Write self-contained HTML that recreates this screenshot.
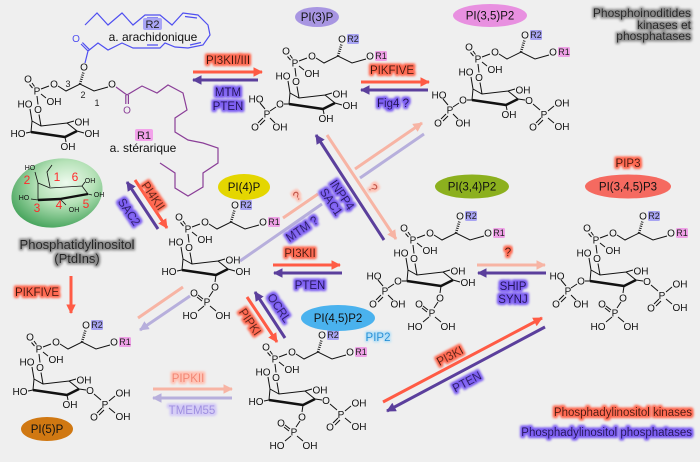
<!DOCTYPE html>
<html><head><meta charset="utf-8">
<style>
html,body{margin:0;padding:0;background:#efefef;}
svg{display:block;}
text{font-family:"Liberation Sans",Arial,sans-serif;}
.m text{font-size:10px;text-anchor:middle;fill:#111;}
.m .s{font-size:9px;fill:#222;}
.m path{stroke:#111;stroke-width:1;fill:none;}
.m path.t{stroke-width:2.5;stroke-linejoin:round;}
.m path.h{stroke-width:2.6;stroke-dasharray:0.9 1.3;}
.lab{font-size:11.5px;text-anchor:middle;}
.kr{fill:#3a1208;}
.pp{fill:#1c0f4e;}
.el{font-size:11.5px;text-anchor:middle;fill:#111;}
</style></head>
<body>
<svg width="700" height="462" viewBox="0 0 700 462" xmlns="http://www.w3.org/2000/svg">
<defs>
<filter id="gR" x="-30%" y="-60%" width="160%" height="220%">
<feMorphology in="SourceAlpha" operator="dilate" radius="1.7" result="d"/>
<feGaussianBlur in="d" stdDeviation="1.3" result="b"/>
<feFlood flood-color="#ff6a52"/>
<feComposite in2="b" operator="in" result="c"/>
<feMerge><feMergeNode in="c"/><feMergeNode in="c"/><feMergeNode in="SourceGraphic"/></feMerge>
</filter>
<filter id="gP" x="-30%" y="-60%" width="160%" height="220%">
<feMorphology in="SourceAlpha" operator="dilate" radius="1.7" result="d"/>
<feGaussianBlur in="d" stdDeviation="1.3" result="b"/>
<feFlood flood-color="#7d5ff2"/>
<feComposite in2="b" operator="in" result="c"/>
<feMerge><feMergeNode in="c"/><feMergeNode in="c"/><feMergeNode in="SourceGraphic"/></feMerge>
</filter>
<filter id="gG" x="-20%" y="-60%" width="140%" height="220%">
<feMorphology in="SourceAlpha" operator="dilate" radius="1.4" result="d"/>
<feGaussianBlur in="d" stdDeviation="1.3" result="b"/>
<feFlood flood-color="#8a8a8a"/>
<feComposite in2="b" operator="in" result="c"/>
<feMerge><feMergeNode in="c"/><feMergeNode in="SourceGraphic"/></feMerge>
</filter>
<filter id="gLR" x="-30%" y="-60%" width="160%" height="220%">
<feMorphology in="SourceAlpha" operator="dilate" radius="1.5" result="d"/>
<feGaussianBlur in="d" stdDeviation="1.3" result="b"/>
<feFlood flood-color="#ffc2b4"/>
<feComposite in2="b" operator="in" result="c"/>
<feMerge><feMergeNode in="c"/><feMergeNode in="c"/><feMergeNode in="SourceGraphic"/></feMerge>
</filter>
<filter id="gLP" x="-30%" y="-60%" width="160%" height="220%">
<feMorphology in="SourceAlpha" operator="dilate" radius="1.5" result="d"/>
<feGaussianBlur in="d" stdDeviation="1.3" result="b"/>
<feFlood flood-color="#d4cbf6"/>
<feComposite in2="b" operator="in" result="c"/>
<feMerge><feMergeNode in="c"/><feMergeNode in="c"/><feMergeNode in="SourceGraphic"/></feMerge>
</filter>
<filter id="gB" x="-30%" y="-60%" width="160%" height="220%">
<feMorphology in="SourceAlpha" operator="dilate" radius="1.2" result="d"/>
<feGaussianBlur in="d" stdDeviation="1.2" result="b"/>
<feFlood flood-color="#a8dcf8"/>
<feComposite in2="b" operator="in" result="c"/>
<feMerge><feMergeNode in="c"/><feMergeNode in="SourceGraphic"/></feMerge>
</filter>
<marker id="aR" viewBox="0 0 10 10" refX="9" refY="5" markerWidth="3.2" markerHeight="3.2" orient="auto"><path d="M0,0L10,5L0,10z" fill="#ff5b45"/></marker>
<marker id="aP" viewBox="0 0 10 10" refX="9" refY="5" markerWidth="3.2" markerHeight="3.2" orient="auto"><path d="M0,0L10,5L0,10z" fill="#5b3f9c"/></marker>
<marker id="aLR" viewBox="0 0 10 10" refX="9" refY="5" markerWidth="3.2" markerHeight="3.2" orient="auto"><path d="M0,0L10,5L0,10z" fill="#f7b4a4"/></marker>
<marker id="aLP" viewBox="0 0 10 10" refX="9" refY="5" markerWidth="3.2" markerHeight="3.2" orient="auto"><path d="M0,0L10,5L0,10z" fill="#b7afdc"/></marker>
<radialGradient id="gg" cx="0.62" cy="0.38" r="0.7">
<stop offset="0" stop-color="#eefaee"/><stop offset="0.45" stop-color="#b6e2b8"/><stop offset="1" stop-color="#3e9f55"/>
</radialGradient>
</defs>
<rect width="700" height="462" fill="#efefef"/>

<!-- chains of PI -->
<g fill="none" stroke="#4f4ff0" stroke-width="1.2">
<path d="M85,63L88,51M88,51L81,44M89.4,49.6L82.4,42.6"/>
<path d="M88,51L98,43L108,50L122,43L133,48L145,48L160,48L165,43L175,47L188,48L203,45L210,35L208,25L198,15L183,13L172,25L160,15L145,15L133,25L122,13L108,25L97,13L85,25"/>
<path d="M147,18L158,18M185,16.5L197,18M190,45L201,42.5M147,45L158,45"/>
</g>
<text x="76" y="42" font-size="10" text-anchor="middle" fill="#4f4ff0">O</text>
<g fill="none" stroke="#8b3f98" stroke-width="1.2">
<path d="M116,87L127,95M125.8,95L125.8,104M128.4,95L128.4,104"/>
<path d="M127,95L142,86L157,93L168,85L183,93L187,110L175,118L175,132L188,140L203,143L218,148L218,163L203,173L203,187L188,196L175,188L175,173L160,163"/>
</g>
<text x="127" y="113.5" font-size="10" text-anchor="middle" fill="#8b3f98">O</text>
<rect x="143" y="18" width="19" height="12" rx="2" fill="#a9a6f5"/>
<text x="152.5" y="28" font-size="11" text-anchor="middle" fill="#222">R2</text>
<text x="153" y="41" font-size="12" text-anchor="middle" fill="#111">a. arachidonique</text>
<rect x="135" y="129" width="18" height="12" rx="2" fill="#f2a2ea"/>
<text x="144" y="139" font-size="11" text-anchor="middle" fill="#222">R1</text>
<text x="143" y="152" font-size="12" text-anchor="middle" fill="#111">a. stérarique</text>

<!-- PI -->
<g class="m" transform="translate(37,91)">
<path d="M-2.5,-4.5L-5,-8M-4.5,-3L-7.5,-6.5M4,3L9,7M4,-2L12,-5M21,-5L29,0L43,-7L57,0L71,-4"/>
<path class="h" d="M43,-7L46.5,-19"/>
<text x="-9" y="-8.5">O</text><text x="0" y="3.5">P</text><text x="17" y="14">OH</text><text x="17" y="-3.5">O</text><text x="47" y="-20.5">O</text><text x="75" y="-3.5">O</text>
<text class="s" x="31" y="-4">3</text><text class="s" x="46" y="7">2</text><text class="s" x="60" y="15">1</text>
<path d="M0,5L1,13.5M2,23.5L4,35M-7,18L-5,30M30,32L37,30M-6,41L-5,30L4,35L30,32L40,40"/><path class="t" d="M40,40L28,46L-6,41"/><text x="-12" y="16.5">HO</text><text x="1" y="22">O</text><text x="45" y="34.5">OH</text>
<path d="M-6,41L-11,42"/><text x="-19" y="46">HO</text>
<path d="M40,40L47,42"/><text x="55" y="46">OH</text>
<path d="M28,46L29,51"/><text x="31" y="59">OH</text>
</g>

<!-- PI(3)P -->
<g class="m" transform="translate(295,63)">
<path d="M-2.5,-4.5L-5,-8M-4.5,-3L-7.5,-6.5M4,3L9,7M4,-2L12,-5M21,-5L29,0L43,-7L57,0L71,-4"/><path class="h" d="M43,-7L46.5,-19"/>
<text x="-9" y="-8.5">O</text><text x="0" y="3.5">P</text><text x="17" y="14">OH</text><text x="17" y="-3.5">O</text><text x="47" y="-20.5">O</text><rect x="52" y="-29" width="12" height="10" rx="1.5" fill="#a8a4f2"/><text class="s" x="58" y="-21">R2</text><text x="75" y="-3.5">O</text><rect x="80" y="-12" width="12" height="10" rx="1.5" fill="#eea0e6"/><text class="s" x="86" y="-4">R1</text>
<path d="M0,5L1,13.5M2,23.5L4,35M-7,18L-5,30M30,32L37,30M-6,41L-5,30L4,35L30,32L40,40"/><path class="t" d="M40,40L28,46L-6,41"/><text x="-12" y="16.5">HO</text><text x="1" y="22">O</text><text x="45" y="34.5">OH</text>
<path d="M-6,41L-11,41M-19,44L-25,48M-30,46L-35,40M-32,55L-37,60M-30,57L-35,62M-25,55L-20,60"/><text x="-15" y="44.5">O</text><text x="-28" y="54.5">P</text><text x="-39" y="39.5">HO</text><text x="-40" y="67.5">O</text><text x="-15" y="67.5">OH</text>
<path d="M40,40L47,42"/><text x="55" y="46">OH</text>
<path d="M28,46L29,51"/><text x="31" y="59">OH</text>
</g>

<!-- PI(3,5)P2 -->
<g class="m" transform="translate(478,59)">
<path d="M-2.5,-4.5L-5,-8M-4.5,-3L-7.5,-6.5M4,3L9,7M4,-2L12,-5M21,-5L29,0L43,-7L57,0L71,-4"/><path class="h" d="M43,-7L46.5,-19"/>
<text x="-9" y="-8.5">O</text><text x="0" y="3.5">P</text><text x="17" y="14">OH</text><text x="17" y="-3.5">O</text><text x="47" y="-20.5">O</text><rect x="52" y="-29" width="12" height="10" rx="1.5" fill="#a8a4f2"/><text class="s" x="58" y="-21">R2</text><text x="75" y="-3.5">O</text><rect x="80" y="-12" width="12" height="10" rx="1.5" fill="#eea0e6"/><text class="s" x="86" y="-4">R1</text>
<path d="M0,5L1,13.5M2,23.5L4,35M-7,18L-5,30M30,32L37,30M-6,41L-5,30L4,35L30,32L40,40"/><path class="t" d="M40,40L28,46L-6,41"/><text x="-12" y="16.5">HO</text><text x="1" y="22">O</text><text x="45" y="34.5">OH</text>
<path d="M-6,41L-11,41M-19,44L-25,48M-30,46L-35,40M-32,55L-37,60M-30,57L-35,62M-25,55L-20,60"/><text x="-15" y="44.5">O</text><text x="-28" y="54.5">P</text><text x="-39" y="39.5">HO</text><text x="-40" y="67.5">O</text><text x="-15" y="67.5">OH</text>
<path d="M40,40L47,41M55,45L62,51M70,52L76,47M63,59L58,64M65,61L60,66M70,59L76,64"/><text x="51" y="45">O</text><text x="66" y="59">P</text><text x="84" y="47.5">OH</text><text x="55" y="71.5">O</text><text x="84" y="71">OH</text>
<path d="M28,46L29,51"/><text x="31" y="59">OH</text>
</g>

<!-- PI(4)P -->
<g class="m" transform="translate(188,229)">
<path d="M-2.5,-4.5L-5,-8M-4.5,-3L-7.5,-6.5M4,3L9,7M4,-2L12,-5M21,-5L29,0L43,-7L57,0L71,-4"/><path class="h" d="M43,-7L46.5,-19"/>
<text x="-9" y="-8.5">O</text><text x="0" y="3.5">P</text><text x="17" y="14">OH</text><text x="17" y="-3.5">O</text><text x="47" y="-20.5">O</text><rect x="52" y="-29" width="12" height="10" rx="1.5" fill="#a8a4f2"/><text class="s" x="58" y="-21">R2</text><text x="75" y="-3.5">O</text><rect x="80" y="-12" width="12" height="10" rx="1.5" fill="#eea0e6"/><text class="s" x="86" y="-4">R1</text>
<path d="M0,5L1,13.5M2,23.5L4,35M-7,18L-5,30M30,32L37,30M-6,41L-5,30L4,35L30,32L40,40"/><path class="t" d="M40,40L28,46L-6,41"/><text x="-12" y="16.5">HO</text><text x="1" y="22">O</text><text x="45" y="34.5">OH</text>
<path d="M-6,41L-11,42"/><text x="-19" y="46">HO</text>
<path d="M40,40L47,42"/><text x="55" y="46">OH</text>
<path d="M28,46L27,53M25,62L21,68M15,70L10,66M14,72L9,68M16,77L10,82M22,77L28,82"/><text x="27" y="61.5">O</text><text x="19" y="76.5">P</text><text x="6" y="67.5">O</text><text x="2" y="90">HO</text><text x="35" y="90">OH</text>
</g>

<!-- PI(3,4)P2 -->
<g class="m" transform="translate(413,240)">
<path d="M-2.5,-4.5L-5,-8M-4.5,-3L-7.5,-6.5M4,3L9,7M4,-2L12,-5M21,-5L29,0L43,-7L57,0L71,-4"/><path class="h" d="M43,-7L46.5,-19"/>
<text x="-9" y="-8.5">O</text><text x="0" y="3.5">P</text><text x="17" y="14">OH</text><text x="17" y="-3.5">O</text><text x="47" y="-20.5">O</text><rect x="52" y="-29" width="12" height="10" rx="1.5" fill="#a8a4f2"/><text class="s" x="58" y="-21">R2</text><text x="75" y="-3.5">O</text><rect x="80" y="-12" width="12" height="10" rx="1.5" fill="#eea0e6"/><text class="s" x="86" y="-4">R1</text>
<path d="M0,5L1,13.5M2,23.5L4,35M-7,18L-5,30M30,32L37,30M-6,41L-5,30L4,35L30,32L40,40"/><path class="t" d="M40,40L28,46L-6,41"/><text x="-12" y="16.5">HO</text><text x="1" y="22">O</text><text x="45" y="34.5">OH</text>
<path d="M-6,41L-11,41M-19,44L-25,48M-30,46L-35,40M-32,55L-37,60M-30,57L-35,62M-25,55L-20,60"/><text x="-15" y="44.5">O</text><text x="-28" y="54.5">P</text><text x="-39" y="39.5">HO</text><text x="-40" y="67.5">O</text><text x="-15" y="67.5">OH</text>
<path d="M40,40L47,42"/><text x="55" y="46">OH</text>
<path d="M28,46L27,53M25,62L21,68M15,70L10,66M14,72L9,68M16,77L10,82M22,77L28,82"/><text x="27" y="61.5">O</text><text x="19" y="76.5">P</text><text x="6" y="67.5">O</text><text x="2" y="90">HO</text><text x="35" y="90">OH</text>
</g>

<!-- PIP3 -->
<g class="m" transform="translate(596,240)">
<path d="M-2.5,-4.5L-5,-8M-4.5,-3L-7.5,-6.5M4,3L9,7M4,-2L12,-5M21,-5L29,0L43,-7L57,0L71,-4"/><path class="h" d="M43,-7L46.5,-19"/>
<text x="-9" y="-8.5">O</text><text x="0" y="3.5">P</text><text x="17" y="14">OH</text><text x="17" y="-3.5">O</text><text x="47" y="-20.5">O</text><rect x="52" y="-29" width="12" height="10" rx="1.5" fill="#a8a4f2"/><text class="s" x="58" y="-21">R2</text><text x="75" y="-3.5">O</text><rect x="80" y="-12" width="12" height="10" rx="1.5" fill="#eea0e6"/><text class="s" x="86" y="-4">R1</text>
<path d="M0,5L1,13.5M2,23.5L4,35M-7,18L-5,30M30,32L37,30M-6,41L-5,30L4,35L30,32L40,40"/><path class="t" d="M40,40L28,46L-6,41"/><text x="-12" y="16.5">HO</text><text x="1" y="22">O</text><text x="45" y="34.5">OH</text>
<path d="M-6,41L-11,41M-19,44L-25,48M-30,46L-35,40M-32,55L-37,60M-30,57L-35,62M-25,55L-20,60"/><text x="-15" y="44.5">O</text><text x="-28" y="54.5">P</text><text x="-39" y="39.5">HO</text><text x="-40" y="67.5">O</text><text x="-15" y="67.5">OH</text>
<path d="M40,40L47,41M55,45L62,51M70,52L76,47M63,59L58,64M65,61L60,66M70,59L76,64"/><text x="51" y="45">O</text><text x="66" y="59">P</text><text x="84" y="47.5">OH</text><text x="55" y="71.5">O</text><text x="84" y="71">OH</text>
<path d="M28,46L27,53M25,62L21,68M15,70L10,66M14,72L9,68M16,77L10,82M22,77L28,82"/><text x="27" y="61.5">O</text><text x="19" y="76.5">P</text><text x="6" y="67.5">O</text><text x="2" y="90">HO</text><text x="35" y="90">OH</text>
</g>

<!-- PI(5)P -->
<g class="m" transform="translate(39,349)">
<path d="M-2.5,-4.5L-5,-8M-4.5,-3L-7.5,-6.5M4,3L9,7M4,-2L12,-5M21,-5L29,0L43,-7L57,0L71,-4"/><path class="h" d="M43,-7L46.5,-19"/>
<text x="-9" y="-8.5">O</text><text x="0" y="3.5">P</text><text x="17" y="14">OH</text><text x="17" y="-3.5">O</text><text x="47" y="-20.5">O</text><rect x="52" y="-29" width="12" height="10" rx="1.5" fill="#a8a4f2"/><text class="s" x="58" y="-21">R2</text><text x="75" y="-3.5">O</text><rect x="80" y="-12" width="12" height="10" rx="1.5" fill="#eea0e6"/><text class="s" x="86" y="-4">R1</text>
<path d="M0,5L1,13.5M2,23.5L4,35M-7,18L-5,30M30,32L37,30M-6,41L-5,30L4,35L30,32L40,40"/><path class="t" d="M40,40L28,46L-6,41"/><text x="-12" y="16.5">HO</text><text x="1" y="22">O</text><text x="45" y="34.5">OH</text>
<path d="M-6,41L-11,42"/><text x="-19" y="46">HO</text>
<path d="M40,40L47,41M55,45L62,51M70,52L76,47M63,59L58,64M65,61L60,66M70,59L76,64"/><text x="51" y="45">O</text><text x="66" y="59">P</text><text x="84" y="47.5">OH</text><text x="55" y="71.5">O</text><text x="84" y="71">OH</text>
<path d="M28,46L29,51"/><text x="31" y="59">OH</text>
</g>

<!-- PI(4,5)P2 -->
<g class="m" transform="translate(275,359)">
<path d="M-2.5,-4.5L-5,-8M-4.5,-3L-7.5,-6.5M4,3L9,7M4,-2L12,-5M21,-5L29,0L43,-7L57,0L71,-4"/><path class="h" d="M43,-7L46.5,-19"/>
<text x="-9" y="-8.5">O</text><text x="0" y="3.5">P</text><text x="17" y="14">OH</text><text x="17" y="-3.5">O</text><text x="47" y="-20.5">O</text><rect x="52" y="-29" width="12" height="10" rx="1.5" fill="#a8a4f2"/><text class="s" x="58" y="-21">R2</text><text x="75" y="-3.5">O</text><rect x="80" y="-12" width="12" height="10" rx="1.5" fill="#eea0e6"/><text class="s" x="86" y="-4">R1</text>
<path d="M0,5L1,13.5M2,23.5L4,35M-7,18L-5,30M30,32L37,30M-6,41L-5,30L4,35L30,32L40,40"/><path class="t" d="M40,40L28,46L-6,41"/><text x="-12" y="16.5">HO</text><text x="1" y="22">O</text><text x="45" y="34.5">OH</text>
<path d="M-6,41L-11,42"/><text x="-19" y="46">HO</text>
<path d="M40,40L47,41M55,45L62,51M70,52L76,47M63,59L58,64M65,61L60,66M70,59L76,64"/><text x="51" y="45">O</text><text x="66" y="59">P</text><text x="84" y="47.5">OH</text><text x="55" y="71.5">O</text><text x="84" y="71">OH</text>
<path d="M28,46L27,53M25,62L21,68M15,70L10,66M14,72L9,68M16,77L10,82M22,77L28,82"/><text x="27" y="61.5">O</text><text x="19" y="76.5">P</text><text x="6" y="67.5">O</text><text x="2" y="90">HO</text><text x="35" y="90">OH</text>
</g>

<!-- Green ellipse PtdIns -->
<ellipse cx="57" cy="193" rx="46" ry="34" fill="url(#gg)" transform="rotate(-12 57 193)"/>
<g fill="none" stroke="#111" stroke-width="0.8">
<path d="M38,183L50,188L82,186L88,194M38,200L38,183M38,183L35,172M50,187L47,172L52,165M82,186L85,182M88,194L92,195M38,200L31,199M60,199L66,205"/>
<path d="M88,194L60,199L38,200" stroke-width="2.4" stroke-linejoin="round"/>
</g>
<g font-size="7" fill="#111" text-anchor="middle">
<text x="30" y="170">HO</text><text x="90" y="183">OH</text><text x="99" y="197">OH</text><text x="24" y="200">HO</text><text x="74" y="212">OH</text>
</g>
<g font-size="12" fill="#ff2a2a" text-anchor="middle">
<text x="27" y="184">2</text><text x="57" y="181">1</text><text x="75" y="181">6</text><text x="37" y="212">3</text><text x="59" y="209">4</text><text x="86" y="208">5</text>
</g>
<g font-size="13" fill="#222" text-anchor="middle" filter="url(#gG)">
<text x="77" y="249">Phosphatidylinositol</text>
<text x="77" y="263">(PtdIns)</text>
</g>

<!-- ellipses -->
<ellipse cx="317" cy="17" rx="22" ry="10" fill="#a896e2"/><text class="el" x="317" y="21">PI(3)P</text>
<ellipse cx="490" cy="15.5" rx="37" ry="11.5" fill="#e890e0"/><text class="el" x="490" y="19.5">PI(3,5)P2</text>
<ellipse cx="244" cy="187" rx="26" ry="13" fill="#e4d600"/><text class="el" x="244" y="191">PI(4)P</text>
<ellipse cx="472" cy="186.5" rx="37" ry="12" fill="#8cb01e"/><text class="el" x="472" y="190.5">PI(3,4)P2</text>
<ellipse cx="628" cy="186.5" rx="43" ry="12" fill="#f56a60"/><text class="el" x="628" y="190.5">PI(3,4,5)P3</text>
<ellipse cx="338" cy="318" rx="37" ry="13" fill="#4ab2ee"/><text class="el" x="338" y="322">PI(4,5)P2</text>
<ellipse cx="47" cy="429" rx="26" ry="12" fill="#d07812"/><text class="el" x="47" y="433">PI(5)P</text>

<!-- arrows -->
<g fill="none" stroke-width="3">
<path d="M193,72H262" stroke="#ff5b45" marker-end="url(#aR)"/>
<path d="M258,80H193" stroke="#5b3f9c" marker-end="url(#aP)"/>
<path d="M361,82H429" stroke="#ff5b45" marker-end="url(#aR)"/>
<path d="M428,90H361" stroke="#5b3f9c" marker-end="url(#aP)"/>
<path d="M135,180L167,228" stroke="#ff5b45" marker-end="url(#aR)"/>
<path d="M158,229L127,182" stroke="#5b3f9c" marker-end="url(#aP)"/>
<path d="M71,276V313" stroke="#ff5b45" marker-end="url(#aR)"/>
<path d="M273,265H340" stroke="#ff5b45" marker-end="url(#aR)"/>
<path d="M342,273H274" stroke="#5b3f9c" marker-end="url(#aP)"/>
<path d="M138,318L183,287M283,218L318,194" stroke="#f7b4a4"/>
<path d="M355,169L422,123" stroke="#f7b4a4" marker-end="url(#aLR)"/>
<path d="M424,134L360,178M322,204L240,261" stroke="#b7afdc"/>
<path d="M190,296L140,330" stroke="#b7afdc" marker-end="url(#aLP)"/>
<path d="M384,240L316,135" stroke="#5b3f9c" marker-end="url(#aP)"/>
<path d="M327,135L396,239" stroke="#f7b4a4" marker-end="url(#aLR)"/>
<path d="M477,265H545" stroke="#f7b4a4" marker-end="url(#aLR)"/>
<path d="M546,273H478" stroke="#5b3f9c" marker-end="url(#aP)"/>
<path d="M247,297L277,342" stroke="#ff5b45" marker-end="url(#aR)"/>
<path d="M285,338L255,292" stroke="#5b3f9c" marker-end="url(#aP)"/>
<path d="M153,389H232" stroke="#f7b4a4" marker-end="url(#aLR)"/>
<path d="M232,398H153" stroke="#b7afdc" marker-end="url(#aLP)"/>
<path d="M383,402L542,318" stroke="#ff5b45" marker-end="url(#aR)"/>
<path d="M545,327L387,411" stroke="#5b3f9c" marker-end="url(#aP)"/>
</g>

<!-- kinase labels -->
<g class="lab kr" filter="url(#gR)">
<text x="228" y="64">PI3KII/III</text>
<text x="392" y="74">PIKFIVE</text>
<text x="300" y="257">PI3KII</text>
<text x="37" y="296">PIKFIVE</text>
<text x="628" y="167">PIP3</text>
</g>
<text class="lab kr" filter="url(#gR)" transform="translate(153,196) rotate(56)" y="4">PI4KII</text>
<text class="lab kr" filter="url(#gR)" transform="translate(250,322) rotate(56)" y="4">PIPKI</text>
<text class="lab kr" filter="url(#gR)" transform="translate(450,356) rotate(-28)" y="4">PI3KI</text>
<text class="lab kr" filter="url(#gR)" x="508" y="256">?</text>

<!-- phosphatase labels -->
<g class="lab pp" filter="url(#gP)">
<text x="228" y="96">MTM</text>
<text x="228" y="110">PTEN</text>
<text x="393" y="107">Fig4 ?</text>
<text x="310" y="289">PTEN</text>
<text x="513" y="290">SHIP</text>
<text x="513" y="303">SYNJ</text>
</g>
<text class="lab pp" filter="url(#gP)" transform="translate(129,212) rotate(56)" y="4">SAC2</text>
<text class="lab pp" filter="url(#gP)" transform="translate(279,308) rotate(56)" y="4">OCRL</text>
<text class="lab pp" filter="url(#gP)" transform="translate(342,195) rotate(56)" y="4">INPP4</text>
<text class="lab pp" filter="url(#gP)" transform="translate(331,202) rotate(56)" y="4">SAC1</text>
<text class="lab pp" filter="url(#gP)" transform="translate(302,229) rotate(-34)" y="4">MTM ?</text>
<text class="lab pp" filter="url(#gP)" transform="translate(467,382) rotate(-28)" y="4">PTEN</text>

<!-- pale labels -->
<text class="lab" fill="#b52a1a" filter="url(#gLR)" transform="translate(297,196) rotate(-34)" y="4">?</text>
<text class="lab" fill="#b52a1a" filter="url(#gLR)" transform="translate(373,188) rotate(56)" y="4">?</text>
<text class="lab" fill="#f28470" filter="url(#gLR)" x="188" y="382">PIPKII</text>
<text class="lab" fill="#9e8ee0" filter="url(#gLP)" x="192" y="414">TMEM55</text>
<text class="lab" fill="#1c8fd6" filter="url(#gB)" x="378" y="341">PIP2</text>

<!-- title -->
<g font-size="12" fill="#222" text-anchor="end" filter="url(#gG)">
<text x="691" y="17">Phosphoinoditides</text>
<text x="691" y="29">kinases et</text>
<text x="691" y="40">phosphatases</text>
</g>
<!-- legend -->
<text x="692" y="416" font-size="11.5" text-anchor="end" fill="#3a1208" filter="url(#gR)">Phosphadylinositol kinases</text>
<text x="692" y="436" font-size="11.5" text-anchor="end" fill="#1c0f4e" filter="url(#gP)">Phosphadylinositol phosphatases</text>
</svg>
</body></html>
